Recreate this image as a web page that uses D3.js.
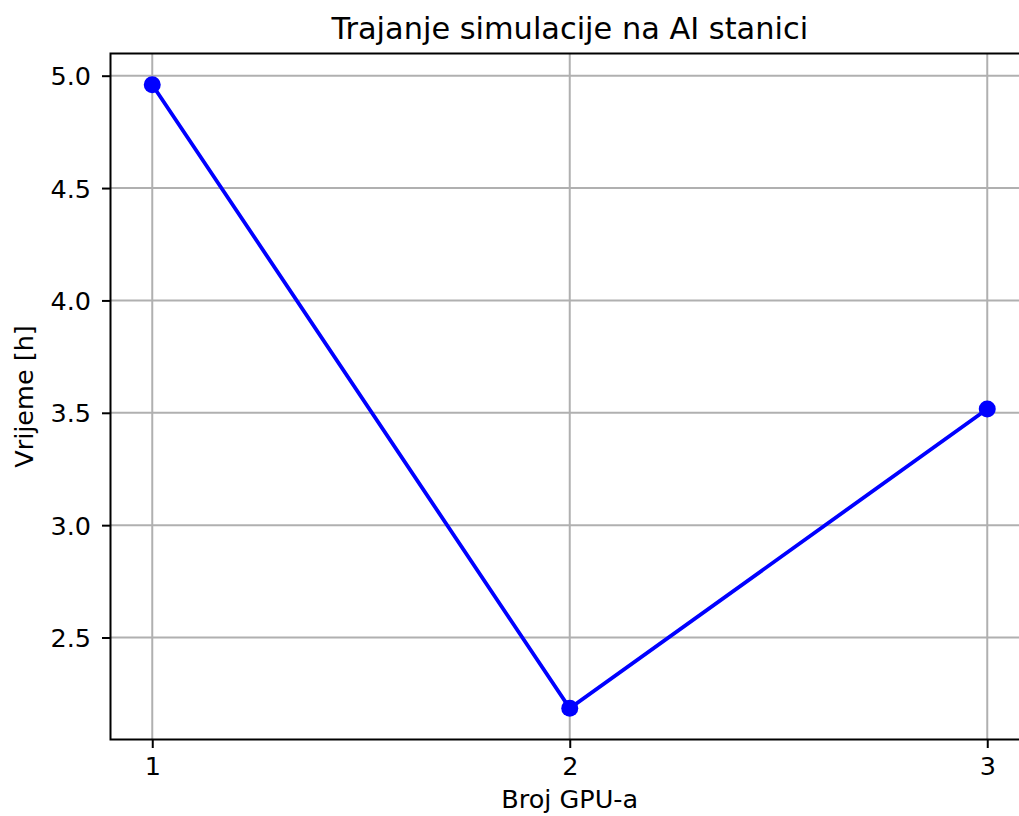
<!DOCTYPE html>
<html>
<head>
<meta charset="utf-8">
<script src="https://cdn.jsdelivr.net/npm/d3@7"></script>
<style>
  body { margin: 0; background: #fff; }
  svg { display: block; font-family: "DejaVu Sans", sans-serif; }
</style>
</head>
<body>
<div id="chart"></div>
<script>
// data
var gpus = [1, 2, 3];
var hours = [4.96, 2.185, 3.517];
var xTicks = [1, 2, 3];
var yTicks = [2.5, 3.0, 3.5, 4.0, 4.5, 5.0];

var W = 1019, H = 816;
var margin = {top: 53.5, left: 110.5, bottom: 739.5, right: 1029};

var svg = d3.select("#chart")
  .append("svg")
    .attr("width", W)
    .attr("height", H);

// matplotlib-like 5% padding around data
var xPad = (d3.max(gpus) - d3.min(gpus)) * 0.05;
var yPad = (d3.max(hours) - d3.min(hours)) * 0.05;

var x = d3.scaleLinear()
  .domain([d3.min(gpus) - xPad, d3.max(gpus) + xPad])
  .range([margin.left, margin.right]);

var y = d3.scaleLinear()
  .domain([d3.min(hours) - yPad, d3.max(hours) + yPad])
  .range([margin.bottom, margin.top]);

// grid
svg.append("g")
  .selectAll("line")
  .data(xTicks).enter()
  .append("line")
    .attr("x1", d => x(d)).attr("x2", d => x(d))
    .attr("y1", margin.top).attr("y2", margin.bottom)
    .attr("stroke", "#b0b0b0")
    .attr("stroke-width", 2);

svg.append("g")
  .selectAll("line")
  .data(yTicks).enter()
  .append("line")
    .attr("x1", margin.left).attr("x2", margin.right)
    .attr("y1", d => y(d)).attr("y2", d => y(d))
    .attr("stroke", "#b0b0b0")
    .attr("stroke-width", 2);

// axes
var xAxis = svg.append("g")
  .attr("transform", "translate(0," + margin.bottom + ")")
  .call(d3.axisBottom(x).tickValues(xTicks).tickFormat(d3.format("d")).tickSize(8.5).tickPadding(9));

var yAxis = svg.append("g")
  .attr("transform", "translate(" + margin.left + ",0)")
  .call(d3.axisLeft(y).tickValues(yTicks).tickFormat(d3.format(".1f")).tickSize(8.5).tickPadding(11));

[xAxis, yAxis].forEach(function (g) {
  g.select(".domain").remove();
  g.attr("font-size", null).attr("font-family", null);
  g.selectAll(".tick line").attr("stroke", "#000").attr("stroke-width", 2);
  g.selectAll(".tick text")
    .attr("fill", "#000")
    .style("font-size", "25.5px");
});
yAxis.selectAll(".tick text").attr("dy", "0.36em");

// spines
svg.append("rect")
  .attr("x", margin.left)
  .attr("y", margin.top)
  .attr("width", margin.right - margin.left)
  .attr("height", margin.bottom - margin.top)
  .attr("fill", "none")
  .attr("stroke", "#000")
  .attr("stroke-width", 2);

// line + markers
var line = d3.line()
  .x((d, i) => x(gpus[i]))
  .y(d => y(d));

svg.append("path")
  .datum(hours)
  .attr("d", line)
  .attr("fill", "none")
  .attr("stroke", "#0000ff")
  .attr("stroke-width", 3.8);

svg.selectAll(".pt")
  .data(hours).enter()
  .append("circle")
    .attr("class", "pt")
    .attr("cx", (d, i) => x(gpus[i]))
    .attr("cy", d => y(d))
    .attr("r", 8.5)
    .attr("fill", "#0000ff");

// labels
svg.append("text")
  .attr("x", (margin.left + margin.right) / 2)
  .attr("y", 39)
  .attr("text-anchor", "middle")
  .style("font-size", "30.4px")
  .text("Trajanje simulacije na AI stanici");

svg.append("text")
  .attr("x", (margin.left + margin.right) / 2)
  .attr("y", 808)
  .attr("text-anchor", "middle")
  .style("font-size", "25.5px")
  .text("Broj GPU-a");

svg.append("text")
  .attr("transform", "translate(33," + ((margin.top + margin.bottom) / 2) + ") rotate(-90)")
  .attr("text-anchor", "middle")
  .style("font-size", "25.5px")
  .text("Vrijeme [h]");
</script>
</body>
</html>
